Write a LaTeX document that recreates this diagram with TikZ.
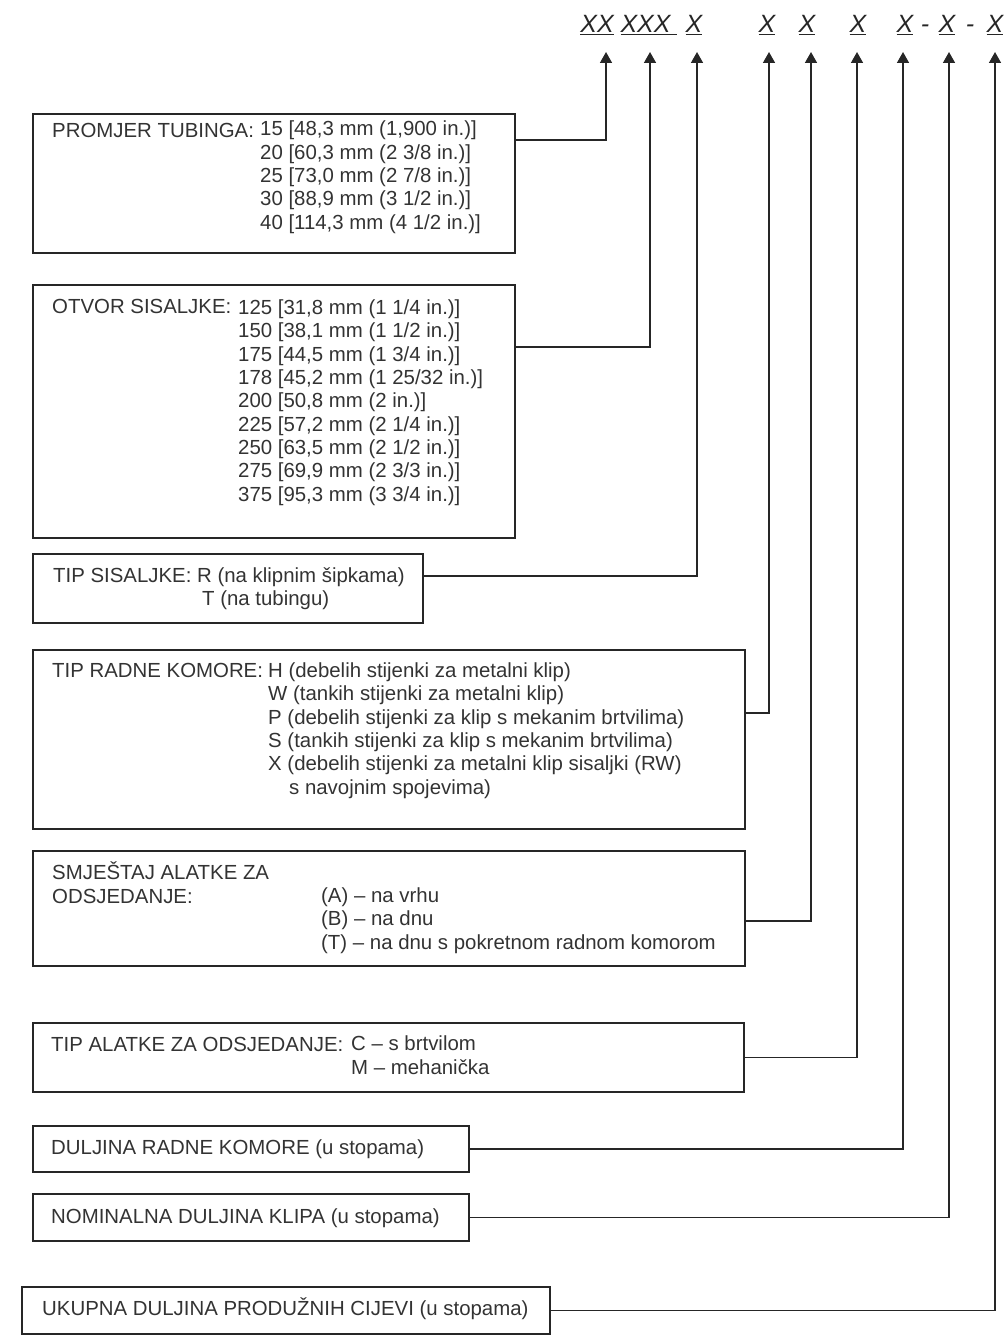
\documentclass[tikz,border=0pt]{standalone}
\usepackage{fontspec}
\setmainfont{Liberation Sans}
\usetikzlibrary{arrows.meta, positioning}

\tikzset{
  box/.style={draw=black!85, line width=2pt, anchor=north west, inner sep=0pt},
  txt/.style={anchor=base west, inner sep=0pt, align=left, text=black!80, font=\fontsize{20.4}{23.3}\selectfont},
  code/.style={anchor=base, inner sep=0pt, text=black!85, font=\fontsize{25}{30}\selectfont\itshape},
  conn/.style={draw=black!85, line width=1.6pt, -{Triangle[width=12pt,length=11pt]}},
}

\begin{document}
\begin{tikzpicture}[x=1pt, y=-1pt]
  \useasboundingbox (0,0) rectangle (1007,1335);

  % Code letters on top
  \node[code] (c1) at (597,33) {\underline{XX}};
  \node[code] (c2) at (649,33) {\underline{XXX\ }};
  \node[code] (c3) at (694,33) {\underline{X}};
  \node[code] (c4) at (767,33) {\underline{X}};
  \node[code] (c5) at (807,33) {\underline{X}};
  \node[code] (c6) at (858,33) {\underline{X}};
  \node[code] (c7) at (905,33) {\underline{X}};
  \node[code] (d1) at (925,33) {-};
  \node[code] (c8) at (947,33) {\underline{X}};
  \node[code] (d2) at (970,33) {-};
  \node[code] (c9) at (995,33) {\underline{X}};

  % Arrow tips under the letters
  \foreach \n/\x in {1/606,2/650,3/697,4/769,5/811,6/857,7/903,8/949,9/995}
    \coordinate (t\n) at (\x,52);

  % Boxes
  \node[box, minimum width=482pt, minimum height=139pt] (b1) at (32,113) {};
  \node[box, minimum width=482pt, minimum height=253pt] (b2) at (32,284) {};
  \node[box, minimum width=390pt, minimum height=69pt]  (b3) at (32,553) {};
  \node[box, minimum width=712pt, minimum height=179pt] (b4) at (32,649) {};
  \node[box, minimum width=712pt, minimum height=115pt] (b5) at (32,850) {};
  \node[box, minimum width=711pt, minimum height=69pt]  (b6) at (32,1022) {};
  \node[box, minimum width=436pt, minimum height=46pt]  (b7) at (32,1125) {};
  \node[box, minimum width=436pt, minimum height=47pt]  (b8) at (32,1193) {};
  \node[box, minimum width=528pt, minimum height=47pt]  (b9) at (21,1286) {};

  % Texts in the boxes (multi-line nodes sit on their last baseline)
  \node[txt] (b1l) at (52,137) {PROMJER TUBINGA:};
  \node[txt] (b1v) at (260,229) {15 [48,3 mm (1,900 in.)]\\20 [60,3 mm (2 3/8 in.)]\\25 [73,0 mm (2 7/8 in.)]\\30 [88,9 mm (3 1/2 in.)]\\40 [114,3 mm (4 1/2 in.)]};

  \node[txt] (b2l) at (52,313) {OTVOR SISALJKE:};
  \node[txt] (b2v) at (238,501) {125 [31,8 mm (1 1/4 in.)]\\150 [38,1 mm (1 1/2 in.)]\\175 [44,5 mm (1 3/4 in.)]\\178 [45,2 mm (1 25/32 in.)]\\200 [50,8 mm (2 in.)]\\225 [57,2 mm (2 1/4 in.)]\\250 [63,5 mm (2 1/2 in.)]\\275 [69,9 mm (2 3/3 in.)]\\375 [95,3 mm (3 3/4 in.)]};

  \node[txt] (b3l) at (53,582) {TIP SISALJKE: R (na klipnim šipkama)};
  \node[txt] (b3v) at (202,605) {T (na tubingu)};

  \node[txt] (b4l) at (52,677) {TIP RADNE KOMORE:};
  \node[txt] (b4v) at (268,794) {H (debelih stijenki za metalni klip)\\W (tankih stijenki za metalni klip)\\P (debelih stijenki za klip s mekanim brtvilima)\\S (tankih stijenki za klip s mekanim brtvilima)\\X (debelih stijenki za metalni klip sisaljki (RW)\\\hspace*{21pt}s navojnim spojevima)};

  \node[txt] (b5l) at (52,903) {SMJEŠTAJ ALATKE ZA\\ODSJEDANJE:};
  \node[txt] (b5v) at (321,949) {(A) – na vrhu\\(B) – na dnu\\(T) – na dnu s pokretnom radnom komorom};

  \node[txt] (b6l) at (51,1051) {TIP ALATKE ZA ODSJEDANJE:};
  \node[txt] (b6v) at (351,1074) {C – s brtvilom\\M – mehanička};

  \node[txt] (b7l) at (51,1154) {DULJINA RADNE KOMORE (u stopama)};
  \node[txt] (b8l) at (51,1223) {NOMINALNA DULJINA KLIPA (u stopama)};
  \node[txt] (b9l) at (42,1315) {UKUPNA DULJINA PRODUŽNIH CIJEVI (u stopama)};

  % Connectors from boxes up to the code letters
  \foreach \b/\t/\dy in {b1/t1/43.5,b2/t2/64.5,b3/t3/12.5,b4/t4/26.5,b5/t5/-12.5,b6/t6/0,b7/t7/0,b8/t8/0,b9/t9/0}
    \draw[conn] ([yshift=\dy pt]\b.east) -| (\t);
\end{tikzpicture}
\end{document}
